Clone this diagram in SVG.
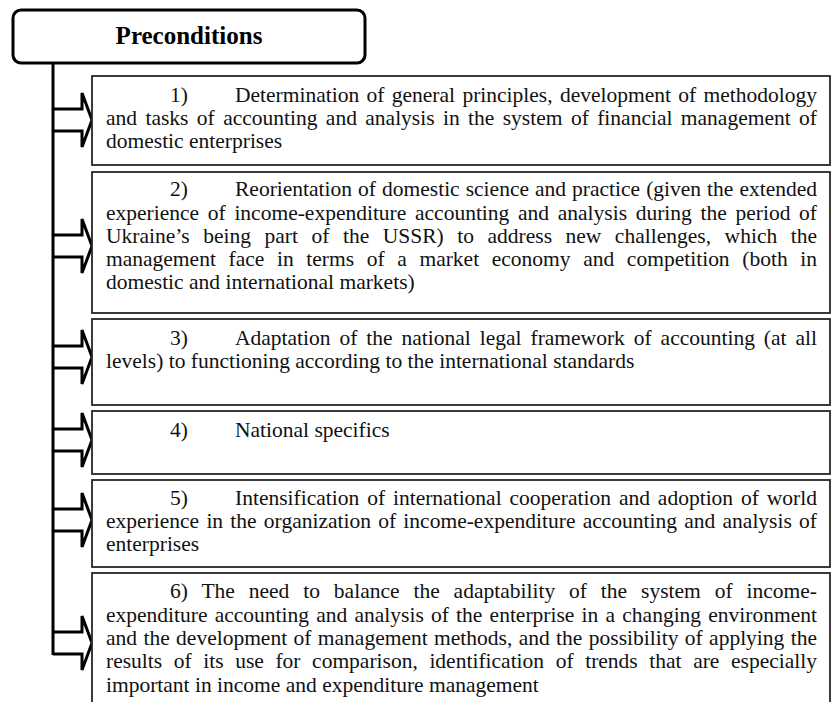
<svg xmlns="http://www.w3.org/2000/svg" width="832" height="702" viewBox="0 0 832 702">
<style>
.box{fill:#fff;stroke:#262626;stroke-width:1.8}
.t{font-family:"Liberation Serif","Times New Roman",serif;font-size:21.5px;fill:#111}
.h{font-family:"Liberation Serif","Times New Roman",serif;font-size:25px;font-weight:bold;fill:#000}
.arr{fill:none;stroke:#000;stroke-width:3;stroke-linejoin:miter}
</style>
<rect width="832" height="702" fill="#fff"/>
<g id="preconditions">
<rect x="13" y="10" width="352" height="53" rx="8" fill="#fff" stroke="#000" stroke-width="3"/>
<text class="h" x="189" y="44" text-anchor="middle">Preconditions</text>
</g>
<g id="connectors">
<polyline class="arr" points="53,109 82,109 82,93 92,120 82,147 82,131 53,131"/>
<polyline class="arr" points="53,235 82,235 82,219 92,246 82,273 82,257 53,257"/>
<polyline class="arr" points="53,346 82,346 82,330 92,357 82,384 82,368 53,368"/>
<polyline class="arr" points="53,429 82,429 82,413 92,440 82,467 82,451 53,451"/>
<polyline class="arr" points="53,509 82,509 82,493 92,520 82,547 82,531 53,531"/>
<polyline class="arr" points="53,632 82,632 82,616 92,643 82,670 82,654 53,654"/>
<line x1="53" y1="63" x2="53" y2="655" stroke="#000" stroke-width="3"/>
</g>
<g id="item1">
<rect class="box" x="92" y="76" width="738" height="89"/>
<text class="t" x="170" y="102">1)</text>
<text class="t" x="235" y="102" word-spacing="1.95" textLength="582" lengthAdjust="spacing">Determination of general principles, development of methodology</text>
<text class="t" x="106" y="125" word-spacing="3" textLength="711" lengthAdjust="spacing">and tasks of accounting and analysis in the system of financial management of</text>
<text class="t" x="106" y="148">domestic enterprises</text>
</g>
<g id="item2">
<rect class="box" x="92" y="172" width="738" height="141"/>
<text class="t" x="170" y="196">2)</text>
<text class="t" x="235" y="196" word-spacing="0.65" textLength="582" lengthAdjust="spacing">Reorientation of domestic science and practice (given the extended</text>
<text class="t" x="106" y="219.5" word-spacing="3.3" textLength="711" lengthAdjust="spacing">experience of income-expenditure accounting and analysis during the period of</text>
<text class="t" x="106" y="243" word-spacing="8.07" textLength="711" lengthAdjust="spacing">Ukraine’s being part of the USSR) to address new challenges, which the</text>
<text class="t" x="106" y="266" word-spacing="7.25" textLength="711" lengthAdjust="spacing">management face in terms of a market economy and competition (both in</text>
<text class="t" x="106" y="289">domestic and international markets)</text>
</g>
<g id="item3">
<rect class="box" x="92" y="319" width="738" height="86"/>
<text class="t" x="170" y="345">3)</text>
<text class="t" x="235" y="345" word-spacing="3.57" textLength="582" lengthAdjust="spacing">Adaptation of the national legal framework of accounting (at all</text>
<text class="t" x="106" y="368">levels) to functioning according to the international standards</text>
</g>
<g id="item4">
<rect class="box" x="92" y="411" width="738" height="63"/>
<text class="t" x="170" y="437">4)</text>
<text class="t" x="235" y="437">National specifics</text>
</g>
<g id="item5">
<rect class="box" x="92" y="480" width="738" height="87"/>
<text class="t" x="170" y="505">5)</text>
<text class="t" x="235" y="505" word-spacing="2.53" textLength="582" lengthAdjust="spacing">Intensification of international cooperation and adoption of world</text>
<text class="t" x="106" y="528" word-spacing="1.84" textLength="711" lengthAdjust="spacing">experience in the organization of income-expenditure accounting and analysis of</text>
<text class="t" x="106" y="551">enterprises</text>
</g>
<g id="item6">
<rect class="box" x="92" y="573" width="738" height="140"/>
<text class="t" x="170" y="598" word-spacing="8.5" textLength="647" lengthAdjust="spacing">6) The need to balance the adaptability of the system of income-</text>
<text class="t" x="106" y="622" word-spacing="1.84" textLength="711" lengthAdjust="spacing">expenditure accounting and analysis of the enterprise in a changing environment</text>
<text class="t" x="106" y="645" word-spacing="1.02" textLength="711" lengthAdjust="spacing">and the development of management methods, and the possibility of applying the</text>
<text class="t" x="106" y="668" word-spacing="6.2" textLength="711" lengthAdjust="spacing">results of its use for comparison, identification of trends that are especially</text>
<text class="t" x="106" y="692">important in income and expenditure management</text>
</g>
</svg>
